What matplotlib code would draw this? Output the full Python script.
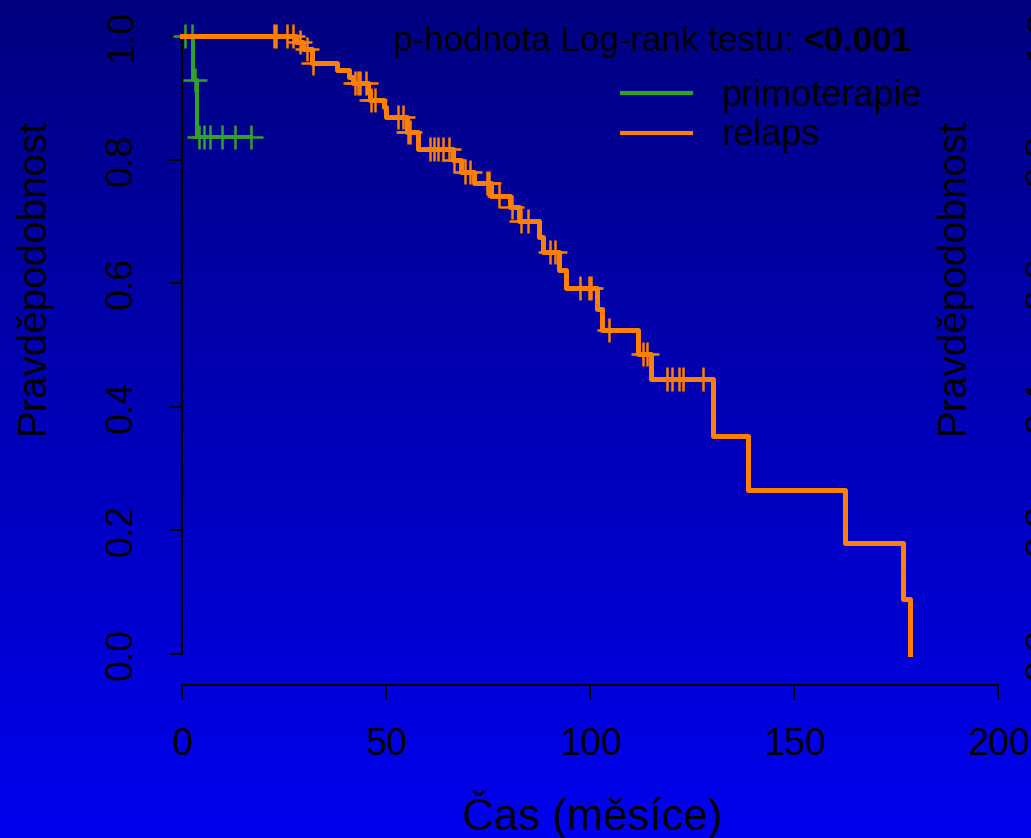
import numpy as np
import matplotlib.pyplot as plt
from matplotlib.lines import Line2D
from matplotlib.colors import LinearSegmentedColormap

plt.rcParams['font.family'] = ['Liberation Sans', 'DejaVu Sans']

# Kaplan-Meier curve, primoterapie (step times / survival)
prim_time = [0, 2.6, 3.7, 16.9]
prim_surv = [1.0, 0.929, 0.836, 0.836]
prim_cens_time = [0.7, 2.4, 3.3, 4.2, 5.4, 6.9, 9.8, 13.0, 16.9]

# Kaplan-Meier curve, relaps
rel_time = [0, 27.9, 29.7, 31.9, 38.0, 40.9, 41.9, 45.6, 46.1, 49.5,
            50.0, 55.1, 57.8, 66.4, 68.4, 71.6, 75.7, 80.4, 82.6, 87.5,
            88.5, 92.4, 94.1, 101.7, 102.9, 111.8, 115.0, 130.1, 138.7, 162.5,
            176.7, 178.4]
rel_surv = [1.0, 0.990, 0.979, 0.956, 0.945, 0.934, 0.924, 0.909, 0.896, 0.885,
            0.869, 0.845, 0.817, 0.799, 0.780, 0.762, 0.741, 0.723, 0.701, 0.675,
            0.650, 0.621, 0.592, 0.558, 0.524, 0.485, 0.445, 0.353, 0.265, 0.180,
            0.089, 0.0]
rel_cens_time = [22.5, 23.0, 25.7, 27.2, 28.9, 30.6, 32.1, 42.4, 43.1, 43.6,
                 45.1, 46.3, 47.3, 52.9, 54.2, 55.4, 55.9, 60.8, 61.8, 62.7,
                 64.0, 65.4, 66.7, 69.4, 70.6, 74.8, 75.3, 77.7, 80.9, 83.0,
                 84.8, 90.2, 91.4, 97.5, 99.8, 100.2, 104.7, 113.0, 114.0, 118.9,
                 120.1, 121.8, 122.8, 127.7]

labels = ['primoterapie', 'relaps']
colors = ['#33A02C', '#FF7F00']
x_ticks = [0, 50, 100, 150, 200]
y_ticks = [0.0, 0.2, 0.4, 0.6, 0.8, 1.0]


def surv_at(times, surv, t):
    idx = np.searchsorted(times, t, side='right') - 1
    return np.asarray(surv)[idx]


W, H = 1031, 838
fig = plt.figure(figsize=(W / 100, H / 100), dpi=100)

# blue gradient background
bg = fig.add_axes([0, 0, 1, 1], zorder=-10)
grad = np.linspace(0, 1, 256).reshape(-1, 1)
cmap = LinearSegmentedColormap.from_list('bg', ['#000080', '#0000EE'])
bg.imshow(grad, aspect='auto', cmap=cmap, extent=[0, 1, 0, 1], origin='upper')
bg.axis('off')

FS = 26
FS_TICK = 27
ax_rect = [182 / W, 1 - 654 / H, 816 / W, 618 / H]
ax = fig.add_axes(ax_rect)
# second panel (mostly outside the picture, only its y labels show)
ax2 = fig.add_axes([(182 + 920) / W, ax_rect[1], ax_rect[2], ax_rect[3]])

for a in (ax, ax2):
    a.set_facecolor('none')
    a.set_xlim(0, 200)
    a.set_ylim(0, 1)
    a.spines['top'].set_visible(False)
    a.spines['right'].set_visible(False)
    a.spines['left'].set_bounds(0, 1)
    a.spines['left'].set_linewidth(1.6)
    a.spines['bottom'].set_position(('outward', 22.3))
    a.spines['bottom'].set_bounds(0, 200)
    a.spines['bottom'].set_linewidth(1.4)
    a.set_xticks(x_ticks)
    a.set_xticklabels([str(v) for v in x_ticks])
    a.set_yticks(y_ticks)
    a.set_yticklabels([f'{v:.1f}' for v in y_ticks], rotation=90, va='center')
    a.tick_params(axis='y', direction='out', length=9.4, width=1.4, labelsize=FS_TICK, pad=21)
    a.tick_params(axis='x', direction='out', length=10.5, width=1.4, labelsize=FS_TICK, pad=20)
    a.set_ylabel('Pravděpodobnost', fontsize=29)
    a.yaxis.label.set_va('baseline')
    a.yaxis.set_label_coords(-0.170, 0.6115)

ax2.spines['bottom'].set_visible(False)
ax2.xaxis.set_visible(False)

ax.set_xlabel('Čas (měsíce)', fontsize=31.5)
ax.xaxis.label.set_va('baseline')
ax.xaxis.set_label_coords(0.502, -0.284)

# curves
ax.step(prim_time, prim_surv, where='post', color=colors[0], lw=2.9, clip_on=False, zorder=3)
ax.plot(prim_cens_time, surv_at(prim_time, prim_surv, prim_cens_time), ls='none',
        marker='+', ms=17, mew=1.8, color=colors[0], clip_on=False, zorder=3)
ax.step(rel_time, rel_surv, where='post', color=colors[1], lw=3.6, clip_on=False, zorder=4)
ax.plot(rel_cens_time, surv_at(rel_time, rel_surv, rel_cens_time), ls='none',
        marker='+', ms=17, mew=1.8, color=colors[1], clip_on=False, zorder=4)

handles = [Line2D([], [], color=c, lw=3) for c in colors]
ax.legend(handles, labels, loc='upper left', bbox_to_anchor=(622 / W, 1 - 79 / H),
          bbox_transform=fig.transFigure, frameon=False, fontsize=FS,
          handlelength=1.9, handletextpad=0.85, borderpad=0, borderaxespad=0,
          labelspacing=0.12)

t1 = fig.text(393 / W, 1 - 51 / H, 'p-hodnota Log-rank testu: ', fontsize=25.2, va='baseline')
ax.annotate('<0.001', xy=(1, 0), xycoords=t1, va='bottom', ha='left',
            fontsize=25.2, fontweight='bold')

fig.savefig('out.png', dpi=100)
